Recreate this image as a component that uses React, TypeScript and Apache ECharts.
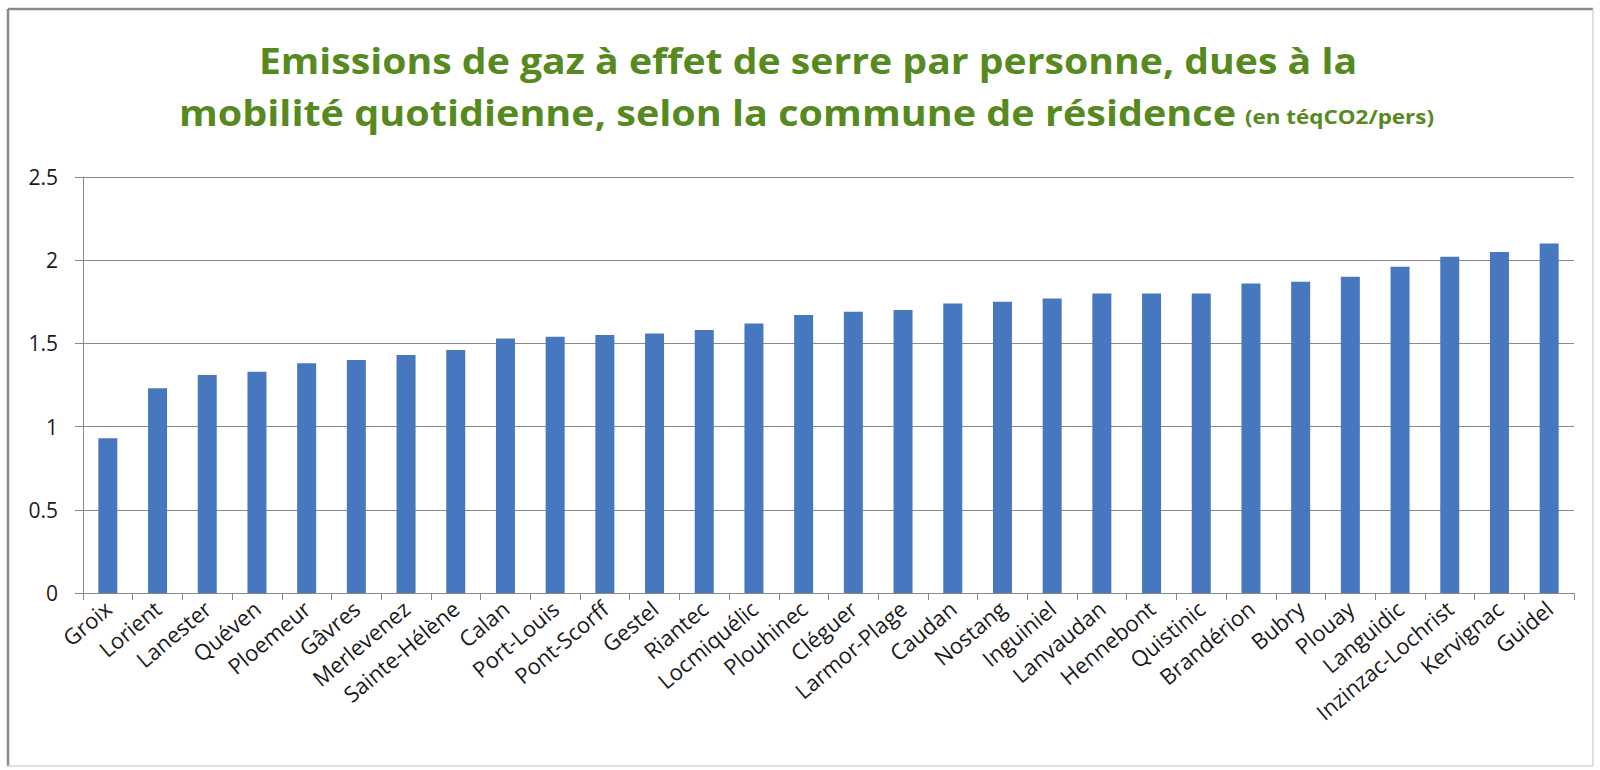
import React, { useEffect, useRef } from "react";
import * as echarts from "echarts";

const communes: string[] = [
  "Groix", "Lorient", "Lanester", "Quéven", "Ploemeur", "Gâvres", "Merlevenez",
  "Sainte-Hélène", "Calan", "Port-Louis", "Pont-Scorff", "Gestel", "Riantec",
  "Locmiquélic", "Plouhinec", "Cléguer", "Larmor-Plage", "Caudan", "Nostang",
  "Inguiniel", "Lanvaudan", "Hennebont", "Quistinic", "Brandérion", "Bubry",
  "Plouay", "Languidic", "Inzinzac-Lochrist", "Kervignac", "Guidel",
];

const emissions: number[] = [
  0.93, 1.23, 1.31, 1.33, 1.38, 1.40, 1.43,
  1.46, 1.53, 1.54, 1.55, 1.56, 1.58,
  1.62, 1.67, 1.69, 1.70, 1.74, 1.75,
  1.77, 1.80, 1.80, 1.80, 1.86, 1.87,
  1.90, 1.96, 2.02, 2.05, 2.10,
];

const yTicks: number[] = [0, 0.5, 1, 1.5, 2, 2.5];

const titleLine1 = "Emissions de gaz à effet de serre par personne, dues à la";
const titleLine2 = "mobilité quotidienne, selon la commune de résidence";
const titleUnit = "(en téqCO2/pers)";

export default function App() {
  const ref = useRef<HTMLDivElement>(null);
  useEffect(() => {
    document.body.style.margin = "0";
    const chart = echarts.init(ref.current!, null, { renderer: "svg" });
    const font = "'Open Sans', Lato, sans-serif";
    const green = "#578a1e";
    const frameDark = "#8a8a8a";
    const frameLight = "#d4d4d4";
    chart.setOption({
      animation: false,
      backgroundColor: "#ffffff",
      textStyle: { fontFamily: font },
      graphic: [
        { type: "line", silent: true, shape: { x1: 8, y1: 9, x2: 1593, y2: 9 }, style: { stroke: frameDark, lineWidth: 2.5 } },
        { type: "line", silent: true, shape: { x1: 8, y1: 9, x2: 8, y2: 766 }, style: { stroke: frameDark, lineWidth: 2.5 } },
        { type: "line", silent: true, shape: { x1: 1593, y1: 9, x2: 1593, y2: 766 }, style: { stroke: frameLight, lineWidth: 1.5 } },
        { type: "line", silent: true, shape: { x1: 8, y1: 766, x2: 1593, y2: 766 }, style: { stroke: frameLight, lineWidth: 1.5 } },
        {
          type: "text",
          silent: true,
          x: 808,
          y: 60,
          scaleX: 1.12,
          style: { text: titleLine1, font: `bold 35px ${font}`, fill: green, align: "center", verticalAlign: "middle" },
        },
        {
          type: "text",
          silent: true,
          x: 1236,
          y: 112,
          scaleX: 1.13,
          style: { text: titleLine2, font: `bold 35px ${font}`, fill: green, align: "right", verticalAlign: "middle" },
        },
        {
          type: "text",
          silent: true,
          x: 1245,
          y: 117,
          scaleX: 1.18,
          style: { text: titleUnit, font: `bold 19px ${font}`, fill: green, align: "left", verticalAlign: "middle" },
        },
      ],
      grid: { left: 83, right: 26, top: 177, bottom: 177 },
      xAxis: {
        type: "category",
        data: communes,
        axisLine: { lineStyle: { color: "#898989", width: 1 } },
        axisTick: { show: true, alignWithLabel: false, length: 7, lineStyle: { color: "#898989" } },
        axisLabel: { rotate: 40, interval: 0, fontSize: 22, color: "#1a1a1a", fontFamily: font, margin: 12 },
      },
      yAxis: {
        type: "value",
        min: yTicks[0],
        max: yTicks[yTicks.length - 1],
        interval: 0.5,
        axisLine: { show: true, lineStyle: { color: "#898989", width: 1 } },
        axisTick: { show: true, length: 8, lineStyle: { color: "#898989" } },
        splitLine: { lineStyle: { color: "#898989", width: 1 } },
        axisLabel: { fontSize: 21, color: "#1a1a1a", fontFamily: font, margin: 25 },
      },
      series: [
        {
          type: "bar",
          data: emissions,
          barWidth: 19,
          itemStyle: { color: "#4778bf" },
        },
      ],
    });
    return () => chart.dispose();
  }, []);
  return <div ref={ref} style={{ width: 1600, height: 770 }} />;
}
